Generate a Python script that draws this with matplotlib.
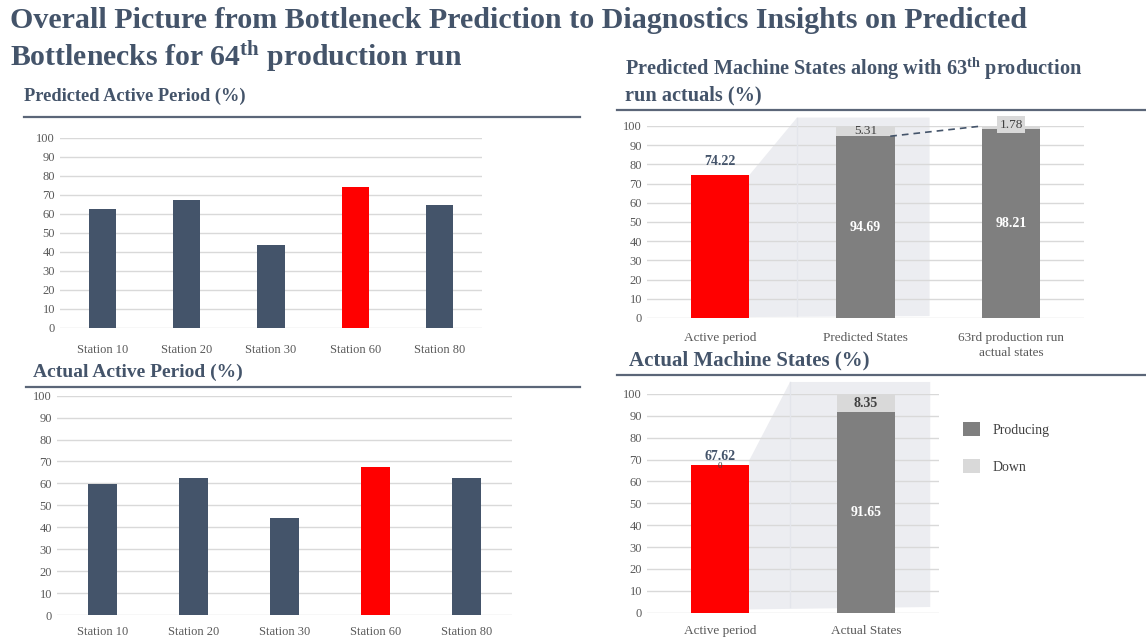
import matplotlib
matplotlib.use("Agg")
import matplotlib.pyplot as plt
from matplotlib.patches import Polygon
from matplotlib.lines import Line2D

# data
stations = ['Station 10', 'Station 20', 'Station 30', 'Station 60', 'Station 80']
pred_active = [62.5, 67.0, 43.5, 74.22, 64.5]
actual_active = [59.7, 62.3, 44.1, 67.62, 62.3]
bottleneck = 'Station 60'

pred_state_cats = ['Active period', 'Predicted States', '63rd production run\nactual states']
pred_producing = [74.22, 94.69, 98.21]
pred_down = [0, 5.31, 1.78]

actual_state_cats = ['Active period', 'Actual States']
actual_producing = [67.62, 91.65]
actual_down = [0, 8.35]

SLATE = '#44546A'
RED = '#FF0000'
PROD = '#7F7F7F'
DOWN = '#D9D9D9'
GRID = '#D9D9D9'
TICK = '#595959'
SHADE = '#ECEDF1'

plt.rcParams['font.family'] = ['Liberation Serif', 'DejaVu Serif']
plt.rcParams['mathtext.fontset'] = 'custom'
plt.rcParams['mathtext.rm'] = 'Liberation Serif:bold'
plt.rcParams['mathtext.it'] = 'Liberation Serif:bold'
plt.rcParams['mathtext.bf'] = 'Liberation Serif:bold'

W, H = 1146, 637
fig = plt.figure(figsize=(W / 100, H / 100), dpi=100)


def px_axes(left, top, right, bottom):
    return fig.add_axes([left / W, 1 - bottom / H, (right - left) / W, (bottom - top) / H])


def fig_text(x, y, s, **kw):
    fig.text(x / W, 1 - y / H, s, **kw)


def header_line(x0, x1, y):
    fig.add_artist(Line2D([x0 / W, x1 / W], [1 - y / H, 1 - y / H], color='#5B6678', lw=1.6))


def style_axes(ax, ylim_top=100):
    ax.set_ylim(0, ylim_top)
    ax.set_yticks(range(0, 101, 10))
    ax.grid(axis='y', color=GRID, lw=1.0)
    ax.set_axisbelow(True)
    for s in ax.spines.values():
        s.set_visible(False)
    ax.tick_params(axis='both', length=0, colors=TICK, labelsize=9)
    ax.tick_params(axis='x', pad=12)


# main title
fig_text(10, 20, 'Overall Picture from Bottleneck Prediction to Diagnostics Insights on Predicted',
         fontsize=21.6, fontweight='bold', color=SLATE, va='center')
fig_text(10, 57, r'Bottlenecks for 64$^{\mathrm{th}}$ production run',
         fontsize=21.4, fontweight='bold', color=SLATE, va='center')

# ---- predicted active period
fig_text(24, 96, 'Predicted Active Period (%)', fontsize=13.2, fontweight='bold', color=SLATE, va='center')
header_line(24, 580, 117)
ax1 = px_axes(60, 137.7, 482, 327.7)
cols = [RED if s == bottleneck else SLATE for s in stations]
ax1.bar(stations, pred_active, width=0.32, color=cols)
style_axes(ax1)
ax1.set_xlim(-0.5, len(stations) - 0.5)

# ---- actual active period
fig_text(33, 372, 'Actual Active Period (%)', fontsize=14, fontweight='bold', color=SLATE, va='center')
header_line(26, 580, 387)
ax2 = px_axes(57, 395.7, 512, 615)
ax2.bar(stations, actual_active, width=0.31, color=cols)
style_axes(ax2)
ax2.set_xlim(-0.5, len(stations) - 0.5)
ax2.tick_params(axis='x', pad=8)

# ---- predicted machine states
fig_text(625, 69, r'Predicted Machine States along with 63$^{\mathrm{th}}$ production',
         fontsize=14.6, fontweight='bold', color=SLATE, va='center')
fig_text(625, 95, 'run actuals (%)', fontsize=14.6, fontweight='bold', color=SLATE, va='center')
header_line(617, 1146, 110)
ax3 = px_axes(647, 126, 1084, 318)
style_axes(ax3)
ax3.set_xlim(-0.5, 2.5)
bw = 0.4
shade = Polygon([(bw / 2, pred_producing[0]), (0.53, 104.4), (1.44, 104.4), (1.44, 1.0), (bw / 2, 0.5)],
                closed=True, facecolor=SHADE, edgecolor='none', zorder=0.5, clip_on=False)
ax3.add_patch(shade)
ax3.plot([0.53, 0.53], [1.0, 104.4], color='#E3E5EB', lw=1, zorder=0.6, clip_on=False)
x3 = list(range(len(pred_state_cats)))
ax3.bar(x3[0], pred_producing[0], width=bw, color=RED, zorder=2)
ax3.bar(x3[1:], pred_producing[1:], width=bw, color=PROD, zorder=2)
ax3.bar(x3[1:], pred_down[1:], bottom=pred_producing[1:], width=bw, color=DOWN, zorder=2)
ax3.set_xticks(x3)
ax3.set_xticklabels(pred_state_cats, fontsize=9.5, linespacing=1.35)
ax3.tick_params(axis='x', pad=10)
ax3.plot([1 + bw / 2 - 0.03, 2 - bw / 2], [pred_producing[1], pred_producing[2] + pred_down[2]],
         ls='--', color='#44546A', lw=1.2, dashes=(4, 3), zorder=3, clip_on=False)
ax3.text(0, pred_producing[0] + 7.5, f'{pred_producing[0]:.2f}', ha='center', va='center',
         fontsize=10, fontweight='bold', color=SLATE)
ax3.text(1, pred_producing[1] / 2, f'{pred_producing[1]:.2f}', ha='center', va='center',
         fontsize=10, fontweight='bold', color='white', zorder=4)
ax3.text(2, pred_producing[2] / 2, f'{pred_producing[2]:.2f}', ha='center', va='center',
         fontsize=10, fontweight='bold', color='white', zorder=4)
ax3.text(1, pred_producing[1] + pred_down[1] / 2, f'{pred_down[1]:.2f}', ha='center', va='center',
         fontsize=9.5, color='#404040', zorder=4)
ax3.text(2, pred_producing[2] + 2.5, f'{pred_down[2]:.2f}', ha='center', va='center',
         fontsize=9.5, color='#404040', zorder=4, clip_on=False,
         bbox=dict(boxstyle='square,pad=0.2', facecolor=DOWN, edgecolor='none'))

# ---- actual machine states
fig_text(629, 360, 'Actual Machine States (%)', fontsize=15, fontweight='bold', color=SLATE, va='center')
header_line(617, 1146, 375)
ax4 = px_axes(647, 394, 939, 612.7)
style_axes(ax4)
ax4.set_xlim(-0.5, 1.5)
shade2 = Polygon([(bw / 2, actual_producing[0] + 2), (0.48, 105.5), (1.44, 105.5), (1.44, 2.6), (bw / 2, 1.5)],
                 closed=True, facecolor=SHADE, edgecolor='none', zorder=0.5, clip_on=False)
ax4.add_patch(shade2)
ax4.plot([0.48, 0.48], [2.6, 105.5], color='#E3E5EB', lw=1, zorder=0.6, clip_on=False)
x4 = list(range(len(actual_state_cats)))
ax4.bar(x4[0], actual_producing[0], width=bw, color=RED, zorder=2)
ax4.bar(x4[1:], actual_producing[1:], width=bw, color=PROD, zorder=2, label='Producing')
ax4.bar(x4[1:], actual_down[1:], bottom=actual_producing[1:], width=bw, color=DOWN, zorder=2, label='Down')
ax4.set_xticks(x4)
ax4.set_xticklabels(actual_state_cats, fontsize=9.5)
ax4.tick_params(axis='x', pad=9)
ax4.text(0, actual_producing[0] + 4, f'{actual_producing[0]:.2f}', ha='center', va='center',
         fontsize=10, fontweight='bold', color=SLATE)
ax4.text(0, actual_producing[0] - 0.5, f'{actual_down[0]:.0f}', ha='center', va='center',
         fontsize=6.5, color='#404040', zorder=4)
ax4.text(1, actual_producing[1] / 2, f'{actual_producing[1]:.2f}', ha='center', va='center',
         fontsize=10, fontweight='bold', color='white', zorder=4)
ax4.text(1, actual_producing[1] + actual_down[1] / 2, f'{actual_down[1]:.2f}', ha='center', va='center',
         fontsize=10, fontweight='bold', color='#404040', zorder=4)
leg = ax4.legend(loc='upper left', bbox_to_anchor=(1.04, 0.93), frameon=False, fontsize=10,
                 handlelength=1.2, handleheight=1.2, labelspacing=1.6, handletextpad=0.9)
for t in leg.get_texts():
    t.set_color('#404040')

fig.savefig('out.png', dpi=100)
plt.close()
